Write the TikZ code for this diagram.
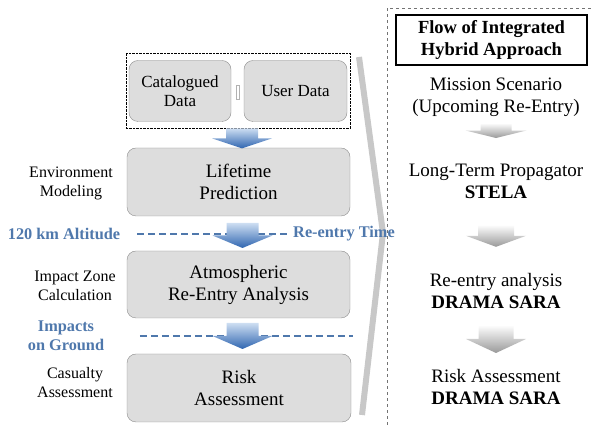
\documentclass[tikz,border=0pt]{standalone}
\usepackage{fontspec}
\setmainfont{Liberation Serif}
\usetikzlibrary{positioning,calc,fit}
\definecolor{boxfill}{RGB}{221,221,221}
\definecolor{boxline}{RGB}{140,140,140}
\definecolor{altblue}{RGB}{79,120,172}
\definecolor{arrowdark}{RGB}{47,101,176}
\definecolor{arrowlight}{RGB}{205,222,242}
\definecolor{bracketgray}{RGB}{200,200,200}

% block arrow centred between two anchors: style, from, to, length, shaft half width, head half width
\newcommand{\flowarrow}[6]{%
  \path[#1] let \p1=(#2), \p2=(#3), \n1={(\y1+\y2)/2+#4/2}, \n2={(\y1+\y2)/2-#4/2}, \n3={(\y1+\y2)/2} in
    (\x1-#5,\n1) -- (\x1+#5,\n1) -- (\x1+#5,\n3) -- (\x1+#6,\n3) -- (\x1,\n2) -- (\x1-#6,\n3) -- (\x1-#5,\n3) -- cycle;}

\tikzset{
  stagebox/.style={draw=boxline, fill=boxfill, rounded corners=9pt, align=center, inner sep=2pt,
    font=\fontsize{19}{22}\selectfont},
  databox/.style={stagebox, font=\fontsize{17}{19}\selectfont, minimum width=102pt, minimum height=61pt},
  sidelabel/.style={align=center, inner sep=2pt, font=\fontsize{16}{19}\selectfont},
  eventlabel/.style={align=center, inner sep=2pt, text=altblue, font=\bfseries\fontsize{16.3}{19}\selectfont},
  eventline/.style={altblue, line width=1.3pt, dash pattern=on 7pt off 4pt},
  toolstep/.style={align=center, inner sep=2pt, font=\fontsize{19}{22}\selectfont},
  bluearrow/.style={top color=arrowlight, bottom color=arrowdark},
  grayarrow/.style={top color=white, bottom color=black!40},
}

\begin{document}
\begin{tikzpicture}[x=1pt, y=1pt]
  \useasboundingbox (0,0) rectangle (592,425);

  % bracket and frame
  \coordinate (brtop) at (359,368);
  \coordinate (brtip) at (383,192);
  \coordinate (brbot) at (362,10);
  \draw[bracketgray, line width=6pt] (brtop) -- (brtip) -- (brbot);
  \draw[black!55, dashed] (387,0) -- (387,417) -- (592,417);

  % input data
  \node[databox] (catdata) at (180,334) {Catalogued\\Data};
  \node[databox, minimum width=103pt] (userdata) at (295.5,334) {User Data};
  \node[draw=black!30, minimum width=3pt, minimum height=14pt, inner sep=0pt] (gapmark) at (238,333) {};
  \node[draw, densely dotted, fit=(catdata)(userdata), inner xsep=3pt, inner ysep=7pt] (dataframe) {};

  % processing stages
  \node[stagebox, minimum width=223pt, minimum height=68pt] (lifetime) at (238.5,243) {Lifetime\\Prediction};
  \node[stagebox, minimum width=223pt, minimum height=67pt] (atmos) at (238.5,140.5) {Atmospheric\\Re-Entry Analysis};
  \node[stagebox, minimum width=224pt, minimum height=68pt] (risk) at (239,37) {Risk\\Assessment};

  \node[sidelabel] (envmod) at (71,242) {Environment\\Modeling};
  \node[sidelabel] (impzone) at (75,139) {Impact Zone\\Calculation};
  \node[sidelabel] (casualty) at (75,42) {Casualty\\Assessment};

  % events
  \node[eventlabel] (alt120) at (64,191) {120 km Altitude};
  \node[eventlabel] (reentrytime) at (344,191) {Re-entry Time};
  \node[eventlabel] (impacts) at (66,89) {Impacts\\on Ground};
  \draw[eventline] ([xshift=15pt]alt120.east) -- (reentrytime.west);
  \draw[eventline] ($(atmos.south west)!0.5!(risk.north west)+(13,0)$) -- ($(atmos.south east)!0.5!(risk.north east)+(2,0)$);

  \flowarrow{bluearrow}{[xshift=4pt]dataframe.south}{lifetime.north}{20}{16}{30}
  \flowarrow{bluearrow}{[xshift=4pt,yshift=-2pt]lifetime.south}{[yshift=-2pt]atmos.north}{25}{16}{30}
  \flowarrow{bluearrow}{[xshift=4pt]atmos.south}{risk.north}{26}{16}{30}

  % integrated hybrid approach
  \node[draw, line width=1.2pt, minimum width=191pt, minimum height=50pt, align=center,
    font=\bfseries\fontsize{18.5}{22}\selectfont] (title) at (491.5,385) {Flow of Integrated\\Hybrid Approach};
  \node[toolstep] (mission) at (496,328) {Mission Scenario\\(Upcoming Re-Entry)};
  \node[toolstep] (stela) at (496,244) {Long-Term Propagator\\\textbf{STELA}};
  \node[toolstep] (reentry) at (496,134) {Re-entry analysis\\\textbf{DRAMA SARA}};
  \node[toolstep] (riskright) at (496,38) {Risk Assessment\\\textbf{DRAMA SARA}};

  \flowarrow{grayarrow}{[yshift=9.5pt]mission.south}{[yshift=9.5pt]stela.north}{15}{15.5}{30.5}
  \flowarrow{grayarrow}{stela.south}{reentry.north}{22}{18}{30}
  \flowarrow{grayarrow}{reentry.south}{riskright.north}{28}{17.5}{30}
\end{tikzpicture}
\end{document}
